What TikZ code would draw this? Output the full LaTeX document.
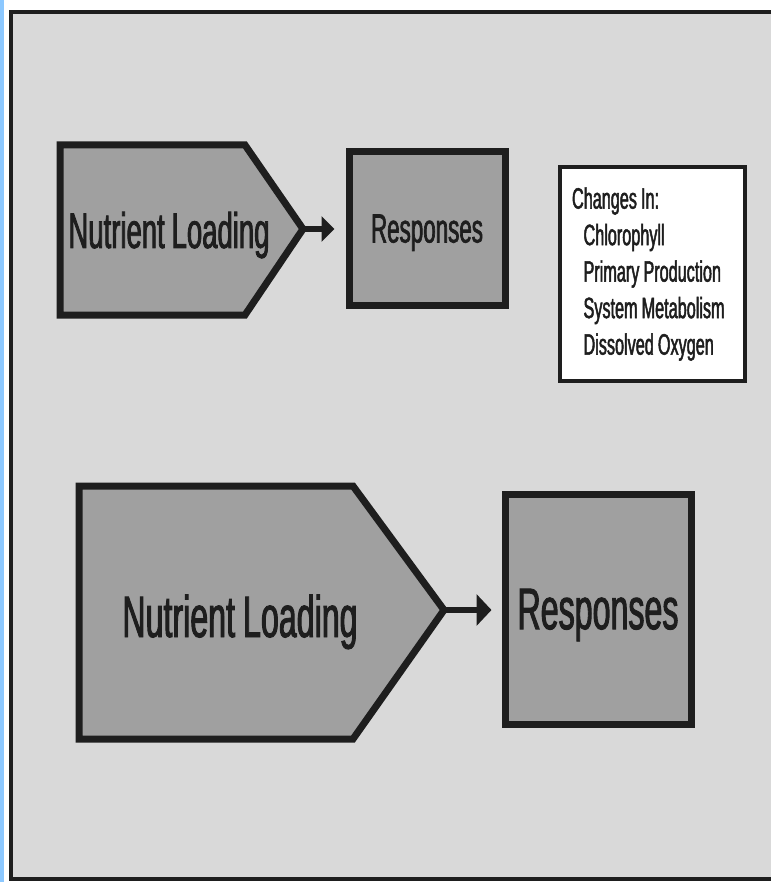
\documentclass[tikz,border=0pt]{standalone}
\usepackage{fontspec}
\setmainfont{Liberation Sans}[FakeStretch=0.55, WordSpace=0.9, FakeBold=1.6]
\usetikzlibrary{arrows.meta,positioning}
\definecolor{panel}{RGB}{217,217,217}
\definecolor{boxgray}{RGB}{160,160,160}
\definecolor{ink}{RGB}{30,30,30}
\definecolor{strip}{RGB}{140,200,255}

\begin{document}
\begin{tikzpicture}[x=1pt, y=-1pt,
    shapeline/.style={draw=ink, line width=7pt, fill=boxgray, line join=miter},
    respbox/.style={shapeline, rectangle, inner sep=0pt, text depth=0pt, text=ink},
    listbox/.style={draw=ink, line width=4.5pt, fill=white, rectangle, align=flush left, text=ink},
    flow/.style={draw=ink, line width=5.5pt}]
  \useasboundingbox (0,0) rectangle (771,882);
  \fill[white] (0,0) rectangle (771,882);
  \fill[strip] (0,0) rectangle (3.5,882);
  \fill[panel] (10.5,12.5) rectangle (771,878.5);
  \draw[ink, line width=4pt] (771,12.5) -- (10.5,12.5) -- (10.5,878.5) -- (771,878.5);

  % upper row
  \draw[shapeline] (60,145) -- (245,145) -- (303,229) -- (245,315) -- (60,315) -- cycle;
  \coordinate (tipsmall) at (303,229);
  \node[anchor=base, text=ink, font=\fontsize{50pt}{60pt}\selectfont] (loadsmall) at (169,248) {Nutrient Loading};
  \node[respbox, minimum width=156pt, minimum height=153pt, font=\fontsize{40.7pt}{48pt}\selectfont] (respsmall) at (427,228.5) {Responses};
  \draw[flow, -{Triangle[length=13pt, width=25pt]}, shorten >=11pt] (tipsmall) -- (tipsmall -| respsmall.west);

  \node[listbox, minimum width=185pt, minimum height=214pt, text width=161pt, inner xsep=12pt,
        font=\fontsize{29.5pt}{36.5pt}\selectfont] (changes) at (652.5,274)
    {Changes In:\\
     \hspace*{11.5pt}Chlorophyll\\
     \hspace*{11.5pt}Primary Production\\
     \hspace*{11.5pt}System Metabolism\\
     \hspace*{11.5pt}Dissolved Oxygen};

  % lower row
  \draw[shapeline] (79,486) -- (353,486) -- (444,610) -- (353,739) -- (79,739) -- cycle;
  \coordinate (tipbig) at (444,610);
  \node[anchor=base, text=ink, font=\fontsize{58.5pt}{70pt}\selectfont] (loadbig) at (240,637) {Nutrient Loading};
  \node[respbox, minimum width=186pt, minimum height=230pt, font=\fontsize{58.5pt}{70pt}\selectfont] (respbig) at (598,609) {Responses};
  \draw[flow, line width=6pt, -{Triangle[length=15pt, width=31pt]}, shorten >=10pt] (tipbig) -- (tipbig -| respbig.west);
\end{tikzpicture}
\end{document}
